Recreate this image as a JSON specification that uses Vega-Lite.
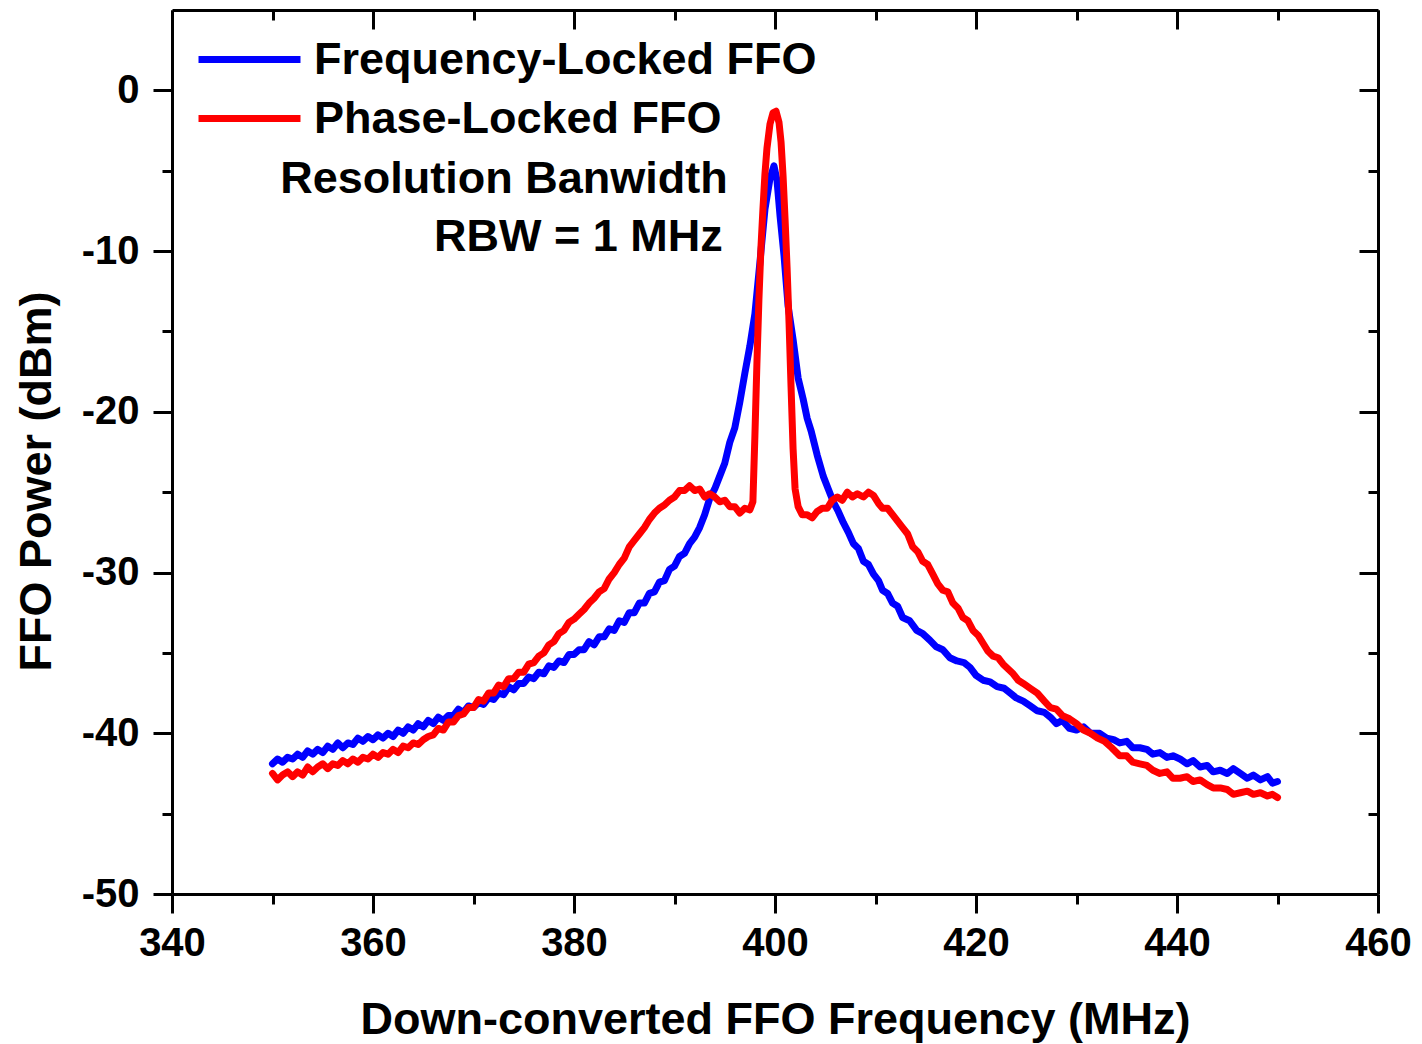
{
  "$schema": "https://vega.github.io/schema/vega-lite/v6.json",
  "width": 1206,
  "height": 884,
  "autosize": "none",
  "padding": {"left": 172, "top": 10, "right": 44, "bottom": 150},
  "background": "white",
  "config": {
    "view": {"stroke": null},
    "font": "Liberation Sans",
    "axis": {
      "domainColor": "black", "domainWidth": 3, "tickColor": "black", "tickWidth": 3, "grid": false,
      "labelFont": "Liberation Sans", "labelFontWeight": "bold", "labelFontSize": 40, "labelColor": "black",
      "titleFont": "Liberation Sans", "titleFontWeight": "bold", "titleFontSize": 45, "titleColor": "black"
    }
  },
  "datasets": {
    "notes": [
      {"f": 395.3, "p": -6.4, "t": "Resolution Banwidth"},
      {"f": 394.8, "p": -10.0, "t": "RBW = 1 MHz"}
    ],
    "spec": [
      {"s":"Frequency-Locked FFO","f":350,"p":-41.9},{"s":"Frequency-Locked FFO","f":350.5,"p":-41.6},{"s":"Frequency-Locked FFO","f":351,"p":-41.8},{"s":"Frequency-Locked FFO","f":351.5,"p":-41.5},{"s":"Frequency-Locked FFO","f":352,"p":-41.6},{"s":"Frequency-Locked FFO","f":352.5,"p":-41.3},{"s":"Frequency-Locked FFO","f":353,"p":-41.5},{"s":"Frequency-Locked FFO","f":353.5,"p":-41.1},{"s":"Frequency-Locked FFO","f":354,"p":-41.3},{"s":"Frequency-Locked FFO","f":354.5,"p":-41.0},{"s":"Frequency-Locked FFO","f":355,"p":-41.2},{"s":"Frequency-Locked FFO","f":355.5,"p":-40.8},{"s":"Frequency-Locked FFO","f":356,"p":-41.0},{"s":"Frequency-Locked FFO","f":356.5,"p":-40.6},{"s":"Frequency-Locked FFO","f":357,"p":-40.9},{"s":"Frequency-Locked FFO","f":357.5,"p":-40.6},{"s":"Frequency-Locked FFO","f":358,"p":-40.7},{"s":"Frequency-Locked FFO","f":358.5,"p":-40.3},{"s":"Frequency-Locked FFO","f":359,"p":-40.5},{"s":"Frequency-Locked FFO","f":359.5,"p":-40.2},{"s":"Frequency-Locked FFO","f":360,"p":-40.4},{"s":"Frequency-Locked FFO","f":360.5,"p":-40.1},{"s":"Frequency-Locked FFO","f":361,"p":-40.3},{"s":"Frequency-Locked FFO","f":361.5,"p":-40.0},{"s":"Frequency-Locked FFO","f":362,"p":-40.2},{"s":"Frequency-Locked FFO","f":362.5,"p":-39.8},{"s":"Frequency-Locked FFO","f":363,"p":-40.0},{"s":"Frequency-Locked FFO","f":363.5,"p":-39.6},{"s":"Frequency-Locked FFO","f":364,"p":-39.8},{"s":"Frequency-Locked FFO","f":364.5,"p":-39.4},{"s":"Frequency-Locked FFO","f":365,"p":-39.6},{"s":"Frequency-Locked FFO","f":365.5,"p":-39.2},{"s":"Frequency-Locked FFO","f":366,"p":-39.4},{"s":"Frequency-Locked FFO","f":366.5,"p":-39.0},{"s":"Frequency-Locked FFO","f":367,"p":-39.2},{"s":"Frequency-Locked FFO","f":367.5,"p":-38.9},{"s":"Frequency-Locked FFO","f":368,"p":-38.9},{"s":"Frequency-Locked FFO","f":368.5,"p":-38.5},{"s":"Frequency-Locked FFO","f":369,"p":-38.7},{"s":"Frequency-Locked FFO","f":369.5,"p":-38.3},{"s":"Frequency-Locked FFO","f":370,"p":-38.4},{"s":"Frequency-Locked FFO","f":370.5,"p":-38.1},{"s":"Frequency-Locked FFO","f":371,"p":-38.2},{"s":"Frequency-Locked FFO","f":371.5,"p":-37.8},{"s":"Frequency-Locked FFO","f":372,"p":-37.9},{"s":"Frequency-Locked FFO","f":372.5,"p":-37.5},{"s":"Frequency-Locked FFO","f":373,"p":-37.6},{"s":"Frequency-Locked FFO","f":373.5,"p":-37.1},{"s":"Frequency-Locked FFO","f":374,"p":-37.3},{"s":"Frequency-Locked FFO","f":374.5,"p":-36.9},{"s":"Frequency-Locked FFO","f":375,"p":-36.9},{"s":"Frequency-Locked FFO","f":375.5,"p":-36.5},{"s":"Frequency-Locked FFO","f":376,"p":-36.6},{"s":"Frequency-Locked FFO","f":376.5,"p":-36.2},{"s":"Frequency-Locked FFO","f":377,"p":-36.3},{"s":"Frequency-Locked FFO","f":377.5,"p":-35.8},{"s":"Frequency-Locked FFO","f":378,"p":-35.9},{"s":"Frequency-Locked FFO","f":378.5,"p":-35.5},{"s":"Frequency-Locked FFO","f":379,"p":-35.6},{"s":"Frequency-Locked FFO","f":379.5,"p":-35.1},{"s":"Frequency-Locked FFO","f":380,"p":-35.1},{"s":"Frequency-Locked FFO","f":380.5,"p":-34.8},{"s":"Frequency-Locked FFO","f":381,"p":-34.8},{"s":"Frequency-Locked FFO","f":381.5,"p":-34.3},{"s":"Frequency-Locked FFO","f":382,"p":-34.5},{"s":"Frequency-Locked FFO","f":382.5,"p":-34.0},{"s":"Frequency-Locked FFO","f":383,"p":-34.0},{"s":"Frequency-Locked FFO","f":383.5,"p":-33.5},{"s":"Frequency-Locked FFO","f":384,"p":-33.6},{"s":"Frequency-Locked FFO","f":384.5,"p":-33.0},{"s":"Frequency-Locked FFO","f":385,"p":-33.1},{"s":"Frequency-Locked FFO","f":385.5,"p":-32.5},{"s":"Frequency-Locked FFO","f":386,"p":-32.5},{"s":"Frequency-Locked FFO","f":386.5,"p":-31.9},{"s":"Frequency-Locked FFO","f":387,"p":-31.9},{"s":"Frequency-Locked FFO","f":387.5,"p":-31.3},{"s":"Frequency-Locked FFO","f":388,"p":-31.2},{"s":"Frequency-Locked FFO","f":388.5,"p":-30.6},{"s":"Frequency-Locked FFO","f":389,"p":-30.5},{"s":"Frequency-Locked FFO","f":389.5,"p":-29.8},{"s":"Frequency-Locked FFO","f":390,"p":-29.6},{"s":"Frequency-Locked FFO","f":390.5,"p":-29.0},{"s":"Frequency-Locked FFO","f":391,"p":-28.8},{"s":"Frequency-Locked FFO","f":391.5,"p":-28.2},{"s":"Frequency-Locked FFO","f":392,"p":-27.8},{"s":"Frequency-Locked FFO","f":392.5,"p":-27.2},{"s":"Frequency-Locked FFO","f":393,"p":-26.4},{"s":"Frequency-Locked FFO","f":393.5,"p":-25.4},{"s":"Frequency-Locked FFO","f":394,"p":-24.8},{"s":"Frequency-Locked FFO","f":394.5,"p":-24.0},{"s":"Frequency-Locked FFO","f":395,"p":-23.2},{"s":"Frequency-Locked FFO","f":395.5,"p":-21.9},{"s":"Frequency-Locked FFO","f":396,"p":-21.0},{"s":"Frequency-Locked FFO","f":396.5,"p":-19.4},{"s":"Frequency-Locked FFO","f":397,"p":-17.6},{"s":"Frequency-Locked FFO","f":397.5,"p":-15.9},{"s":"Frequency-Locked FFO","f":398,"p":-13.9},{"s":"Frequency-Locked FFO","f":398.5,"p":-10.7},{"s":"Frequency-Locked FFO","f":399,"p":-7.4},{"s":"Frequency-Locked FFO","f":399.5,"p":-5.5},{"s":"Frequency-Locked FFO","f":399.9,"p":-4.7},{"s":"Frequency-Locked FFO","f":400.2,"p":-5.6},{"s":"Frequency-Locked FFO","f":400.5,"p":-7.8},{"s":"Frequency-Locked FFO","f":400.9,"p":-10.3},{"s":"Frequency-Locked FFO","f":401.3,"p":-13.4},{"s":"Frequency-Locked FFO","f":401.8,"p":-15.5},{"s":"Frequency-Locked FFO","f":402.3,"p":-17.9},{"s":"Frequency-Locked FFO","f":402.8,"p":-19.2},{"s":"Frequency-Locked FFO","f":403.2,"p":-20.4},{"s":"Frequency-Locked FFO","f":403.6,"p":-21.2},{"s":"Frequency-Locked FFO","f":404.2,"p":-22.7},{"s":"Frequency-Locked FFO","f":404.8,"p":-24.0},{"s":"Frequency-Locked FFO","f":405.3,"p":-24.8},{"s":"Frequency-Locked FFO","f":405.8,"p":-25.6},{"s":"Frequency-Locked FFO","f":406.3,"p":-26.2},{"s":"Frequency-Locked FFO","f":406.8,"p":-26.9},{"s":"Frequency-Locked FFO","f":407.3,"p":-27.5},{"s":"Frequency-Locked FFO","f":407.8,"p":-28.2},{"s":"Frequency-Locked FFO","f":408.3,"p":-28.5},{"s":"Frequency-Locked FFO","f":408.8,"p":-29.3},{"s":"Frequency-Locked FFO","f":409.3,"p":-29.5},{"s":"Frequency-Locked FFO","f":409.8,"p":-30.1},{"s":"Frequency-Locked FFO","f":410.3,"p":-30.5},{"s":"Frequency-Locked FFO","f":410.7,"p":-31.1},{"s":"Frequency-Locked FFO","f":411.2,"p":-31.3},{"s":"Frequency-Locked FFO","f":411.7,"p":-31.9},{"s":"Frequency-Locked FFO","f":412.2,"p":-32.1},{"s":"Frequency-Locked FFO","f":412.7,"p":-32.8},{"s":"Frequency-Locked FFO","f":413.4,"p":-33.0},{"s":"Frequency-Locked FFO","f":414.1,"p":-33.6},{"s":"Frequency-Locked FFO","f":414.7,"p":-33.8},{"s":"Frequency-Locked FFO","f":415.4,"p":-34.2},{"s":"Frequency-Locked FFO","f":416.0,"p":-34.6},{"s":"Frequency-Locked FFO","f":416.7,"p":-34.8},{"s":"Frequency-Locked FFO","f":417.4,"p":-35.3},{"s":"Frequency-Locked FFO","f":418.1,"p":-35.5},{"s":"Frequency-Locked FFO","f":418.8,"p":-35.6},{"s":"Frequency-Locked FFO","f":419.4,"p":-35.9},{"s":"Frequency-Locked FFO","f":420.0,"p":-36.4},{"s":"Frequency-Locked FFO","f":420.7,"p":-36.7},{"s":"Frequency-Locked FFO","f":421.4,"p":-36.8},{"s":"Frequency-Locked FFO","f":422.1,"p":-37.1},{"s":"Frequency-Locked FFO","f":422.8,"p":-37.2},{"s":"Frequency-Locked FFO","f":423.4,"p":-37.5},{"s":"Frequency-Locked FFO","f":424.0,"p":-37.8},{"s":"Frequency-Locked FFO","f":424.7,"p":-38.0},{"s":"Frequency-Locked FFO","f":425.4,"p":-38.3},{"s":"Frequency-Locked FFO","f":426.1,"p":-38.6},{"s":"Frequency-Locked FFO","f":426.8,"p":-38.7},{"s":"Frequency-Locked FFO","f":427.4,"p":-39.0},{"s":"Frequency-Locked FFO","f":428,"p":-39.4},{"s":"Frequency-Locked FFO","f":428.6,"p":-39.2},{"s":"Frequency-Locked FFO","f":429.3,"p":-39.7},{"s":"Frequency-Locked FFO","f":430,"p":-39.8},{"s":"Frequency-Locked FFO","f":430.7,"p":-39.6},{"s":"Frequency-Locked FFO","f":431.4,"p":-40.0},{"s":"Frequency-Locked FFO","f":432.3,"p":-40.0},{"s":"Frequency-Locked FFO","f":433,"p":-40.3},{"s":"Frequency-Locked FFO","f":433.7,"p":-40.4},{"s":"Frequency-Locked FFO","f":434.3,"p":-40.6},{"s":"Frequency-Locked FFO","f":435,"p":-40.5},{"s":"Frequency-Locked FFO","f":435.6,"p":-40.9},{"s":"Frequency-Locked FFO","f":436.3,"p":-40.9},{"s":"Frequency-Locked FFO","f":437,"p":-41.0},{"s":"Frequency-Locked FFO","f":437.6,"p":-41.3},{"s":"Frequency-Locked FFO","f":438.3,"p":-41.2},{"s":"Frequency-Locked FFO","f":439,"p":-41.5},{"s":"Frequency-Locked FFO","f":439.6,"p":-41.4},{"s":"Frequency-Locked FFO","f":440.3,"p":-41.6},{"s":"Frequency-Locked FFO","f":441,"p":-41.9},{"s":"Frequency-Locked FFO","f":441.6,"p":-41.7},{"s":"Frequency-Locked FFO","f":442.3,"p":-42.1},{"s":"Frequency-Locked FFO","f":443,"p":-42.0},{"s":"Frequency-Locked FFO","f":443.6,"p":-42.4},{"s":"Frequency-Locked FFO","f":444.3,"p":-42.3},{"s":"Frequency-Locked FFO","f":445,"p":-42.5},{"s":"Frequency-Locked FFO","f":445.6,"p":-42.2},{"s":"Frequency-Locked FFO","f":446.3,"p":-42.5},{"s":"Frequency-Locked FFO","f":447,"p":-42.8},{"s":"Frequency-Locked FFO","f":447.6,"p":-42.6},{"s":"Frequency-Locked FFO","f":448.3,"p":-42.9},{"s":"Frequency-Locked FFO","f":449,"p":-42.7},{"s":"Frequency-Locked FFO","f":449.5,"p":-43.1},{"s":"Frequency-Locked FFO","f":450,"p":-43.0},
      {"s":"Phase-Locked FFO","f":350,"p":-42.5},{"s":"Phase-Locked FFO","f":350.5,"p":-42.9},{"s":"Phase-Locked FFO","f":351,"p":-42.6},{"s":"Phase-Locked FFO","f":351.5,"p":-42.4},{"s":"Phase-Locked FFO","f":352,"p":-42.7},{"s":"Phase-Locked FFO","f":352.5,"p":-42.4},{"s":"Phase-Locked FFO","f":353,"p":-42.6},{"s":"Phase-Locked FFO","f":353.5,"p":-42.1},{"s":"Phase-Locked FFO","f":354,"p":-42.4},{"s":"Phase-Locked FFO","f":354.5,"p":-42.1},{"s":"Phase-Locked FFO","f":355,"p":-41.9},{"s":"Phase-Locked FFO","f":355.5,"p":-42.2},{"s":"Phase-Locked FFO","f":356,"p":-41.9},{"s":"Phase-Locked FFO","f":356.5,"p":-42.0},{"s":"Phase-Locked FFO","f":357,"p":-41.7},{"s":"Phase-Locked FFO","f":357.5,"p":-41.9},{"s":"Phase-Locked FFO","f":358,"p":-41.6},{"s":"Phase-Locked FFO","f":358.5,"p":-41.8},{"s":"Phase-Locked FFO","f":359,"p":-41.5},{"s":"Phase-Locked FFO","f":359.5,"p":-41.6},{"s":"Phase-Locked FFO","f":360,"p":-41.3},{"s":"Phase-Locked FFO","f":360.5,"p":-41.5},{"s":"Phase-Locked FFO","f":361,"p":-41.2},{"s":"Phase-Locked FFO","f":361.5,"p":-41.3},{"s":"Phase-Locked FFO","f":362,"p":-41.0},{"s":"Phase-Locked FFO","f":362.5,"p":-41.2},{"s":"Phase-Locked FFO","f":363,"p":-40.8},{"s":"Phase-Locked FFO","f":363.5,"p":-40.9},{"s":"Phase-Locked FFO","f":364,"p":-40.6},{"s":"Phase-Locked FFO","f":364.5,"p":-40.7},{"s":"Phase-Locked FFO","f":365,"p":-40.4},{"s":"Phase-Locked FFO","f":365.5,"p":-40.2},{"s":"Phase-Locked FFO","f":366,"p":-40.1},{"s":"Phase-Locked FFO","f":366.5,"p":-39.7},{"s":"Phase-Locked FFO","f":367,"p":-39.8},{"s":"Phase-Locked FFO","f":367.5,"p":-39.3},{"s":"Phase-Locked FFO","f":368,"p":-39.3},{"s":"Phase-Locked FFO","f":368.5,"p":-38.9},{"s":"Phase-Locked FFO","f":369,"p":-38.8},{"s":"Phase-Locked FFO","f":369.5,"p":-38.4},{"s":"Phase-Locked FFO","f":370,"p":-38.4},{"s":"Phase-Locked FFO","f":370.5,"p":-37.9},{"s":"Phase-Locked FFO","f":371,"p":-38.0},{"s":"Phase-Locked FFO","f":371.5,"p":-37.5},{"s":"Phase-Locked FFO","f":372,"p":-37.5},{"s":"Phase-Locked FFO","f":372.5,"p":-37.0},{"s":"Phase-Locked FFO","f":373,"p":-37.1},{"s":"Phase-Locked FFO","f":373.5,"p":-36.6},{"s":"Phase-Locked FFO","f":374,"p":-36.6},{"s":"Phase-Locked FFO","f":374.5,"p":-36.2},{"s":"Phase-Locked FFO","f":375,"p":-36.2},{"s":"Phase-Locked FFO","f":375.5,"p":-35.7},{"s":"Phase-Locked FFO","f":376,"p":-35.6},{"s":"Phase-Locked FFO","f":376.5,"p":-35.2},{"s":"Phase-Locked FFO","f":377,"p":-35.0},{"s":"Phase-Locked FFO","f":377.5,"p":-34.5},{"s":"Phase-Locked FFO","f":378,"p":-34.3},{"s":"Phase-Locked FFO","f":378.5,"p":-33.8},{"s":"Phase-Locked FFO","f":379,"p":-33.6},{"s":"Phase-Locked FFO","f":379.5,"p":-33.1},{"s":"Phase-Locked FFO","f":380,"p":-32.9},{"s":"Phase-Locked FFO","f":380.5,"p":-32.6},{"s":"Phase-Locked FFO","f":381,"p":-32.3},{"s":"Phase-Locked FFO","f":381.5,"p":-31.9},{"s":"Phase-Locked FFO","f":382,"p":-31.6},{"s":"Phase-Locked FFO","f":382.5,"p":-31.2},{"s":"Phase-Locked FFO","f":383,"p":-31.0},{"s":"Phase-Locked FFO","f":383.5,"p":-30.4},{"s":"Phase-Locked FFO","f":384,"p":-30.0},{"s":"Phase-Locked FFO","f":384.5,"p":-29.5},{"s":"Phase-Locked FFO","f":385,"p":-29.1},{"s":"Phase-Locked FFO","f":385.5,"p":-28.4},{"s":"Phase-Locked FFO","f":386,"p":-28.0},{"s":"Phase-Locked FFO","f":386.5,"p":-27.6},{"s":"Phase-Locked FFO","f":387,"p":-27.2},{"s":"Phase-Locked FFO","f":387.5,"p":-26.7},{"s":"Phase-Locked FFO","f":388,"p":-26.3},{"s":"Phase-Locked FFO","f":388.5,"p":-26.0},{"s":"Phase-Locked FFO","f":389,"p":-25.8},{"s":"Phase-Locked FFO","f":389.5,"p":-25.5},{"s":"Phase-Locked FFO","f":390,"p":-25.3},{"s":"Phase-Locked FFO","f":390.5,"p":-24.9},{"s":"Phase-Locked FFO","f":391,"p":-24.9},{"s":"Phase-Locked FFO","f":391.5,"p":-24.6},{"s":"Phase-Locked FFO","f":392,"p":-24.9},{"s":"Phase-Locked FFO","f":392.5,"p":-24.8},{"s":"Phase-Locked FFO","f":393,"p":-25.3},{"s":"Phase-Locked FFO","f":393.5,"p":-25.1},{"s":"Phase-Locked FFO","f":394,"p":-25.3},{"s":"Phase-Locked FFO","f":394.5,"p":-25.6},{"s":"Phase-Locked FFO","f":395,"p":-25.5},{"s":"Phase-Locked FFO","f":395.5,"p":-25.9},{"s":"Phase-Locked FFO","f":396,"p":-25.9},{"s":"Phase-Locked FFO","f":396.5,"p":-26.3},{"s":"Phase-Locked FFO","f":397,"p":-26.0},{"s":"Phase-Locked FFO","f":397.5,"p":-26.1},{"s":"Phase-Locked FFO","f":397.8,"p":-25.6},{"s":"Phase-Locked FFO","f":398.0,"p":-21.5},{"s":"Phase-Locked FFO","f":398.2,"p":-17.0},{"s":"Phase-Locked FFO","f":398.4,"p":-13.0},{"s":"Phase-Locked FFO","f":398.6,"p":-9.8},{"s":"Phase-Locked FFO","f":398.8,"p":-7.4},{"s":"Phase-Locked FFO","f":399.0,"p":-5.2},{"s":"Phase-Locked FFO","f":399.2,"p":-3.6},{"s":"Phase-Locked FFO","f":399.5,"p":-2.1},{"s":"Phase-Locked FFO","f":399.8,"p":-1.4},{"s":"Phase-Locked FFO","f":400.1,"p":-1.3},{"s":"Phase-Locked FFO","f":400.4,"p":-2.0},{"s":"Phase-Locked FFO","f":400.6,"p":-3.2},{"s":"Phase-Locked FFO","f":400.8,"p":-5.3},{"s":"Phase-Locked FFO","f":401.0,"p":-8.0},{"s":"Phase-Locked FFO","f":401.2,"p":-11.0},{"s":"Phase-Locked FFO","f":401.4,"p":-14.5},{"s":"Phase-Locked FFO","f":401.6,"p":-18.5},{"s":"Phase-Locked FFO","f":401.8,"p":-22.3},{"s":"Phase-Locked FFO","f":402.0,"p":-24.8},{"s":"Phase-Locked FFO","f":402.3,"p":-25.9},{"s":"Phase-Locked FFO","f":402.7,"p":-26.4},{"s":"Phase-Locked FFO","f":403.2,"p":-26.4},{"s":"Phase-Locked FFO","f":403.7,"p":-26.6},{"s":"Phase-Locked FFO","f":404.2,"p":-26.2},{"s":"Phase-Locked FFO","f":404.7,"p":-26.0},{"s":"Phase-Locked FFO","f":405.2,"p":-26.0},{"s":"Phase-Locked FFO","f":405.7,"p":-25.5},{"s":"Phase-Locked FFO","f":406.2,"p":-25.3},{"s":"Phase-Locked FFO","f":406.7,"p":-25.5},{"s":"Phase-Locked FFO","f":407.2,"p":-25.0},{"s":"Phase-Locked FFO","f":407.7,"p":-25.3},{"s":"Phase-Locked FFO","f":408.2,"p":-25.1},{"s":"Phase-Locked FFO","f":408.8,"p":-25.3},{"s":"Phase-Locked FFO","f":409.3,"p":-25.0},{"s":"Phase-Locked FFO","f":409.8,"p":-25.2},{"s":"Phase-Locked FFO","f":410.3,"p":-25.7},{"s":"Phase-Locked FFO","f":410.7,"p":-26.0},{"s":"Phase-Locked FFO","f":411.2,"p":-26.0},{"s":"Phase-Locked FFO","f":411.7,"p":-26.4},{"s":"Phase-Locked FFO","f":412.2,"p":-26.8},{"s":"Phase-Locked FFO","f":412.7,"p":-27.2},{"s":"Phase-Locked FFO","f":413.2,"p":-27.6},{"s":"Phase-Locked FFO","f":413.7,"p":-28.4},{"s":"Phase-Locked FFO","f":414.2,"p":-28.7},{"s":"Phase-Locked FFO","f":414.7,"p":-29.3},{"s":"Phase-Locked FFO","f":415.2,"p":-29.5},{"s":"Phase-Locked FFO","f":415.7,"p":-30.1},{"s":"Phase-Locked FFO","f":416.2,"p":-30.7},{"s":"Phase-Locked FFO","f":416.7,"p":-31.1},{"s":"Phase-Locked FFO","f":417.2,"p":-31.2},{"s":"Phase-Locked FFO","f":417.7,"p":-31.9},{"s":"Phase-Locked FFO","f":418.2,"p":-32.2},{"s":"Phase-Locked FFO","f":418.7,"p":-32.8},{"s":"Phase-Locked FFO","f":419.2,"p":-33.0},{"s":"Phase-Locked FFO","f":419.7,"p":-33.6},{"s":"Phase-Locked FFO","f":420.2,"p":-33.9},{"s":"Phase-Locked FFO","f":420.7,"p":-34.4},{"s":"Phase-Locked FFO","f":421.2,"p":-34.9},{"s":"Phase-Locked FFO","f":421.7,"p":-35.2},{"s":"Phase-Locked FFO","f":422.2,"p":-35.3},{"s":"Phase-Locked FFO","f":422.7,"p":-35.7},{"s":"Phase-Locked FFO","f":423.2,"p":-36.0},{"s":"Phase-Locked FFO","f":423.7,"p":-36.3},{"s":"Phase-Locked FFO","f":424.2,"p":-36.7},{"s":"Phase-Locked FFO","f":424.7,"p":-36.9},{"s":"Phase-Locked FFO","f":425.4,"p":-37.2},{"s":"Phase-Locked FFO","f":426.1,"p":-37.5},{"s":"Phase-Locked FFO","f":426.8,"p":-38.0},{"s":"Phase-Locked FFO","f":427.4,"p":-38.4},{"s":"Phase-Locked FFO","f":428,"p":-38.5},{"s":"Phase-Locked FFO","f":428.6,"p":-38.9},{"s":"Phase-Locked FFO","f":429.3,"p":-39.1},{"s":"Phase-Locked FFO","f":430,"p":-39.4},{"s":"Phase-Locked FFO","f":430.7,"p":-39.8},{"s":"Phase-Locked FFO","f":431.4,"p":-40.0},{"s":"Phase-Locked FFO","f":432.1,"p":-40.3},{"s":"Phase-Locked FFO","f":432.8,"p":-40.5},{"s":"Phase-Locked FFO","f":433.5,"p":-40.9},{"s":"Phase-Locked FFO","f":434.3,"p":-41.4},{"s":"Phase-Locked FFO","f":435,"p":-41.4},{"s":"Phase-Locked FFO","f":435.6,"p":-41.8},{"s":"Phase-Locked FFO","f":436.3,"p":-41.9},{"s":"Phase-Locked FFO","f":437,"p":-42.0},{"s":"Phase-Locked FFO","f":437.6,"p":-42.3},{"s":"Phase-Locked FFO","f":438.3,"p":-42.5},{"s":"Phase-Locked FFO","f":439,"p":-42.4},{"s":"Phase-Locked FFO","f":439.6,"p":-42.8},{"s":"Phase-Locked FFO","f":440.3,"p":-42.8},{"s":"Phase-Locked FFO","f":441,"p":-42.7},{"s":"Phase-Locked FFO","f":441.6,"p":-43.0},{"s":"Phase-Locked FFO","f":442.3,"p":-42.9},{"s":"Phase-Locked FFO","f":443,"p":-43.2},{"s":"Phase-Locked FFO","f":443.6,"p":-43.4},{"s":"Phase-Locked FFO","f":444.3,"p":-43.4},{"s":"Phase-Locked FFO","f":445,"p":-43.5},{"s":"Phase-Locked FFO","f":445.6,"p":-43.8},{"s":"Phase-Locked FFO","f":446.3,"p":-43.7},{"s":"Phase-Locked FFO","f":447,"p":-43.6},{"s":"Phase-Locked FFO","f":447.6,"p":-43.8},{"s":"Phase-Locked FFO","f":448.3,"p":-43.7},{"s":"Phase-Locked FFO","f":449,"p":-43.9},{"s":"Phase-Locked FFO","f":449.5,"p":-43.8},{"s":"Phase-Locked FFO","f":450,"p":-44.0}
    ]
  },
  "layer": [
    {
      "data": {"name": "spec"},
      "mark": {"type": "line", "strokeWidth": 7, "strokeCap": "round", "strokeJoin": "round"},
      "encoding": {
        "x": {
          "field": "f", "type": "quantitative",
          "scale": {"domain": [340, 460], "nice": false, "zero": false},
          "axis": {
            "orient": "bottom",
            "values": [340, 350, 360, 370, 380, 390, 400, 410, 420, 430, 440, 450, 460],
            "tickSize": {"condition": {"test": "datum.value % 20 === 0", "value": 19}, "value": 10},
            "labelExpr": "datum.value % 20 === 0 ? toString(datum.value) : ''",
            "labelPadding": 10,
            "labelFlush": false,
            "labelOverlap": false,
            "title": "Down-converted FFO Frequency (MHz)",
            "titleX": 603, "titleY": 139, "titleAlign": "center", "titleBaseline": "alphabetic"
          }
        },
        "y": {
          "field": "p", "type": "quantitative",
          "scale": {"domain": [-50, 5], "nice": false, "zero": false},
          "axis": {
            "orient": "left",
            "values": [-50, -45, -40, -35, -30, -25, -20, -15, -10, -5, 0],
            "tickSize": {"condition": {"test": "datum.value % 10 === 0", "value": 19}, "value": 10},
            "labelExpr": "datum.value % 10 === 0 ? toString(datum.value) : ''",
            "labelPadding": 14,
            "labelFlush": false,
            "labelOverlap": false,
            "title": "FFO Power (dBm)",
            "titleX": -122, "titleY": 471, "titleAngle": -90, "titleAlign": "center", "titleBaseline": "alphabetic"
          }
        },
        "color": {
          "field": "s", "type": "nominal",
          "scale": {"domain": ["Frequency-Locked FFO", "Phase-Locked FFO"], "range": ["#0000ff", "#ff0000"]},
          "legend": {
            "orient": "none", "legendX": 23, "legendY": 27, "title": null,
            "symbolType": "stroke", "symbolSize": 10400, "symbolStrokeWidth": 7,
            "labelFont": "Liberation Sans", "labelFontWeight": "bold", "labelFontSize": 45, "labelColor": "black",
            "labelOffset": 10, "labelLimit": 0, "clipHeight": 45, "rowPadding": 13, "padding": 0,
            "encoding": {"symbols": {"update": {"strokeCap": {"value": "round"}}}}
          }
        }
      }
    },
    {
      "data": {"name": "notes"},
      "mark": {"type": "text", "align": "right", "baseline": "alphabetic", "font": "Liberation Sans", "fontWeight": "bold", "fontSize": 45, "color": "black"},
      "encoding": {
        "x": {
          "field": "f", "type": "quantitative",
          "scale": {"domain": [340, 460], "nice": false, "zero": false},
          "axis": {
            "orient": "top",
            "values": [340, 350, 360, 370, 380, 390, 400, 410, 420, 430, 440, 450, 460],
            "tickSize": {"condition": {"test": "datum.value % 20 === 0", "value": -19}, "value": -10},
            "labels": false, "title": null
          }
        },
        "y": {
          "field": "p", "type": "quantitative",
          "scale": {"domain": [-50, 5], "nice": false, "zero": false},
          "axis": {
            "orient": "right",
            "values": [-50, -45, -40, -35, -30, -25, -20, -15, -10, -5, 0],
            "tickSize": {"condition": {"test": "datum.value % 10 === 0", "value": -19}, "value": -10},
            "labels": false, "title": null
          }
        },
        "text": {"field": "t", "type": "nominal"}
      }
    }
  ],
  "resolve": {"axis": {"x": "independent", "y": "independent"}}
}
